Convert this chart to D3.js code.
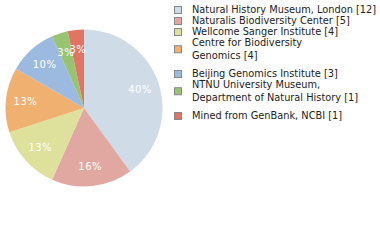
<!DOCTYPE html>
<html><head><meta charset="utf-8">
<script src="https://cdn.jsdelivr.net/npm/d3@7"></script>
<style>html,body{margin:0;padding:0;background:#fff;}svg{display:block;}</style>
</head><body>
<script>
const categories = [
  ["Natural History Museum, London [12]"],
  ["Naturalis Biodiversity Center [5]"],
  ["Wellcome Sanger Institute [4]"],
  ["Centre for Biodiversity", "Genomics [4]"],
  ["Beijing Genomics Institute [3]"],
  ["NTNU University Museum,", "Department of Natural History [1]"],
  ["Mined from GenBank, NCBI [1]"]
];
const values = [12, 5, 4, 4, 3, 1, 1];
const colors = ["#cfdbe7", "#e0a8a0", "#dde19c", "#f0b070", "#9cbae0", "#98c472", "#e07563"];

const W = 380, H = 240;
const FONT = "'DejaVu Sans',Verdana,sans-serif";
const svg = d3.select("body").append("svg").attr("width", W).attr("height", H);
const cx = 84, cy = 108, R = 78.5;
const total = d3.sum(values);
const pie = d3.pie().sort(null).value(d => d)(values);
const arc = d3.arc().innerRadius(0).outerRadius(R);
const labelArc = d3.arc().innerRadius(R * 0.75).outerRadius(R * 0.75);
const g = svg.append("g").attr("transform", `translate(${cx},${cy})`);
g.selectAll("path").data(pie).join("path")
  .attr("d", arc).attr("fill", (d, i) => colors[i]);
g.selectAll("text").data(pie).join("text")
  .attr("transform", d => `translate(${labelArc.centroid(d)})`)
  .attr("text-anchor", "middle").attr("dy", "0.35em")
  .attr("fill", "#fff")
  .style("font-family", FONT)
  .style("font-size", "10px")
  .style("letter-spacing", "0.5px")
  .text(d => Math.floor(d.value / total * 100) + "%");

const lg = svg.append("g");
let y = 10;
categories.forEach((lines, i) => {
  const n = lines.length;
  const mid = y + (n - 1) * 12.5 / 2;
  lg.append("rect").attr("x", 174.5).attr("y", mid - 3.5).attr("width", 7).attr("height", 7)
    .attr("fill", colors[i]).attr("stroke", "#888").attr("stroke-width", 1);
  lines.forEach((t, k) => {
    lg.append("text").attr("x", 192).attr("y", y + k * 12.5).attr("dy", "0.35em")
      .style("font-family", FONT)
      .style("font-size", "9.8px").attr("fill", "#222").text(t);
  });
  y += n === 1 ? 11 : 31;
});
</script>
</body></html>
